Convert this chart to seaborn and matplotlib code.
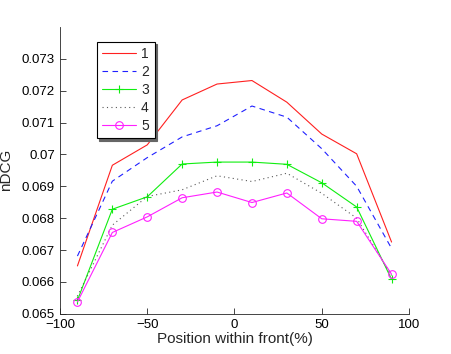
import numpy as np
import pandas as pd
import matplotlib
matplotlib.use("Agg")
import matplotlib.pyplot as plt
from matplotlib.ticker import FuncFormatter
import seaborn as sns

# ---- Data ------------------------------------------------------------------
position = [-90, -70, -50, -30, -10, 10, 30, 50, 70, 90]
series_names = ["1", "2", "3", "4", "5"]
ndcg_1 = [0.06650, 0.06966, 0.07030, 0.07171, 0.07221, 0.07232, 0.07164, 0.07064, 0.07002, 0.06725]
ndcg_2 = [0.06681, 0.06916, 0.06990, 0.07055, 0.07090, 0.07152, 0.07117, 0.07018, 0.06900, 0.06705]
ndcg_3 = [0.06542, 0.06828, 0.06867, 0.06970, 0.06976, 0.06976, 0.06969, 0.06911, 0.06835, 0.06608]
ndcg_4 = [0.06555, 0.06778, 0.06868, 0.06889, 0.06933, 0.06915, 0.06941, 0.06878, 0.06800, 0.06620]
ndcg_5 = [0.06537, 0.06755, 0.06804, 0.06864, 0.06882, 0.06849, 0.06879, 0.06798, 0.06790, 0.06624]

df = pd.DataFrame({
    "Position": position * 5,
    "nDCG": ndcg_1 + ndcg_2 + ndcg_3 + ndcg_4 + ndcg_5,
    "Series": [s for s in series_names for _ in position],
})

styles = {
    "1": dict(color="#ff2020", linestyle="-", marker=None),
    "2": dict(color="#2020ff", linestyle=(0, (5, 4)), marker=None),
    "3": dict(color="#10ee10", linestyle="-", marker="+"),
    "4": dict(color="0.35", linestyle=(0, (1, 3)), marker=None),
    "5": dict(color="#ff20ff", linestyle="-", marker="o"),
}

# ---- Plot ------------------------------------------------------------------
sns.set_style("white")
plt.rcParams["font.family"] = ["Liberation Sans", "DejaVu Sans"]

fig = plt.figure(figsize=(4.52, 3.54), dpi=100)
ax = fig.add_axes([0.1327, 0.1138, 0.7722, 0.8099])

for name in series_names:
    st = styles[name]
    sns.lineplot(
        data=df[df["Series"] == name], x="Position", y="nDCG",
        color=st["color"], linestyle=st["linestyle"], marker=st["marker"],
        markersize=5.5, markerfacecolor="none", markeredgecolor=st["color"],
        markeredgewidth=0.8, linewidth=0.8, label=name, ax=ax,
    )

ax.set_xlim(-100, 100)
ax.set_ylim(0.065, 0.074)
ax.set_xticks([-100, -50, 0, 50, 100])
ax.set_yticks(np.arange(0.065, 0.0735, 0.001))
ax.yaxis.set_major_formatter(FuncFormatter(lambda v, p: f"{v:g}"))
ax.tick_params(direction="in", length=4, width=0.6, labelsize=9.5,
               bottom=True, left=True, colors="0.15", labelcolor="k")
for side in ["top", "right"]:
    ax.spines[side].set_visible(False)
for side in ["left", "bottom"]:
    ax.spines[side].set_color("0.15")
    ax.spines[side].set_linewidth(0.6)

ax.set_xlabel("Position within front(%)", fontsize=11, labelpad=1)
ax.set_ylabel("nDCG", fontsize=11, labelpad=6)

leg = ax.legend(
    loc="upper left", bbox_to_anchor=(0.105, 0.949), borderaxespad=0,
    fontsize=10, handlelength=2.4, labelspacing=0.28, handletextpad=0.4,
    borderpad=0.4, fancybox=False, frameon=True, shadow={"color": "0.4", "alpha": 1},
)
leg.get_frame().set_edgecolor("k")
leg.get_frame().set_linewidth(0.8)

fig.savefig("out.png", dpi=100)
